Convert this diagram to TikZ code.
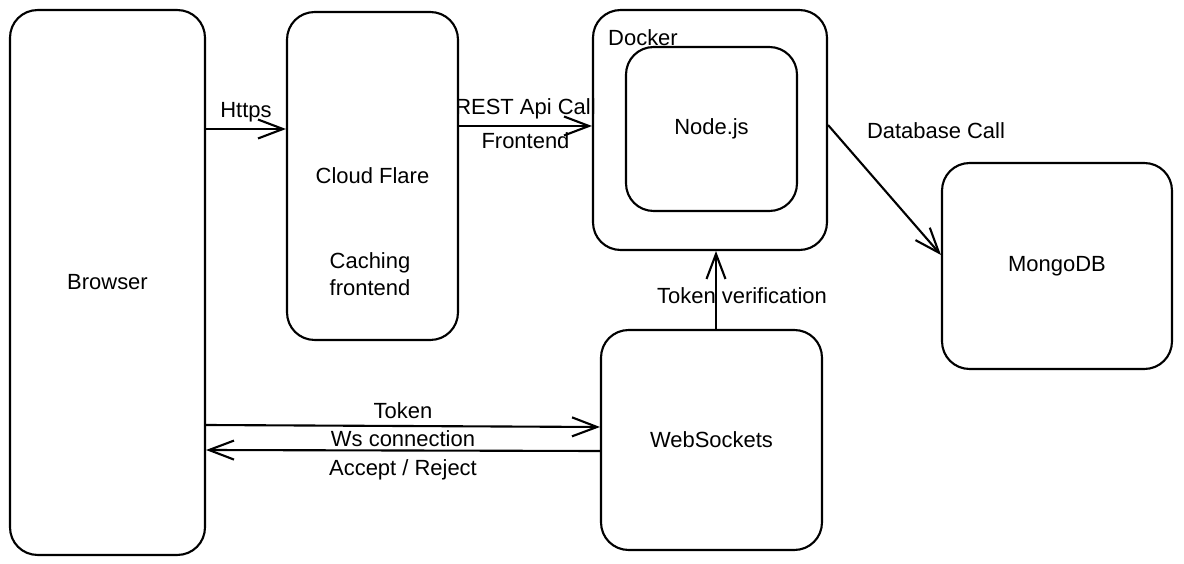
\documentclass[tikz,border=0pt]{standalone}
\usepackage{fontspec}
\setmainfont{Liberation Sans}
\usetikzlibrary{arrows.meta}

\begin{document}
\begin{tikzpicture}[x=0.02cm,y=-0.02cm,
  box/.style={draw, line width=1.2pt, rounded corners=0.55cm, inner sep=0pt},
  arr/.style={-{Straight Barb[length=5mm,width=3.8mm]}, line width=1.2pt},
  lbl/.style={font=\fontsize{12.5}{15}\selectfont}]
  \useasboundingbox (0,0) rectangle (1184,564);

  \foreach \name/\cx/\cy/\w/\h/\txt in {browser/107.5/282.5/3.9/10.9/Browser,
      cloud/372.5/176/3.42/6.56/Cloud Flare, docker/710/130/4.68/4.8/{},
      nodejs/711.5/129/3.42/3.28/Node.js, mongo/1057/266/4.6/4.12/MongoDB,
      ws/711.5/440/4.42/4.4/WebSockets}
    \node[box, lbl, minimum width=\w cm, minimum height=\h cm] (\name) at (\cx,\cy) {\txt};

  \node[lbl, align=center] (caching) at (370,274) {Caching\\frontend};
  \node[lbl, anchor=west] (dockerlbl) at (602,38) {Docker};

  \draw[arr] (browser.east |- 0,129) -- node[lbl, above] {Https} (cloud.west |- 0,129);
  \draw[arr] (cloud.east |- 0,126) -- node[lbl, above] {REST Api Call}
    node[lbl, below] {Frontend} (docker.west |- 0,126);
  \draw[arr] (docker.east |- 0,125) -- (mongo.west |- 0,255);
  \node[lbl] (dblbl) at (936,131) {Database Call};
  \draw[arr] (ws.north -| 716,0) -- (docker.south -| 716,0);
  \node[lbl] (verif) at (742,296) {Token verification};

  \draw[arr] (browser.east |- 0,425) -- node[lbl, above] {Token} (ws.west |- 0,427);
  \draw[arr] (ws.west |- 0,451) -- node[lbl, above, yshift=-2pt] {Ws connection}
    node[lbl, below, yshift=-1pt] {Accept / Reject} (browser.east |- 0,450);
\end{tikzpicture}
\end{document}
